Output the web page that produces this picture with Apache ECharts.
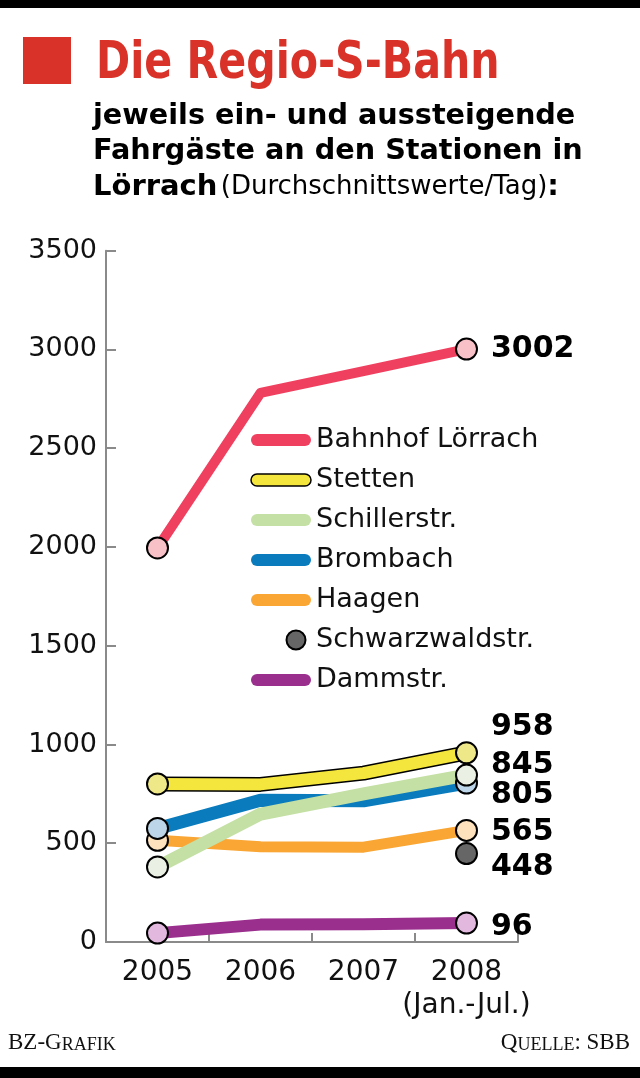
<!DOCTYPE html>
<html>
<head>
<meta charset="utf-8">
<script src="https://cdn.jsdelivr.net/npm/echarts@6/dist/echarts.min.js"></script>
<style>html,body{margin:0;padding:0;background:#fff;}#c{width:640px;height:1078px;}</style>
</head>
<body>
<div id="c"></div>
<script>
// ---- data ----
var years = ['2005', '2006', '2007', '2008\n(Jan.-Jul.)'];
var yTicks = [0, 500, 1000, 1500, 2000, 2500, 3000, 3500];
var bahnhof = [1995, 2780, 2890, 3002];
var stetten = [800, 798, 855, 958];
var schiller = [380, 648, 750, 845];
var brombach = [575, 718, 715, 805];
var haagen = [515, 482, 480, 565];
var schwarzwald = [null, null, null, 448];
var dammstr = [45, 88, 90, 96];
var seriesNames = ['Bahnhof Lörrach', 'Stetten', 'Schillerstr.', 'Brombach', 'Haagen', 'Schwarzwaldstr.', 'Dammstr.'];

// ---- styling ----
var FONT = '"DejaVu Sans", "Liberation Sans", sans-serif';
var LINE_ICON = 'path://M0,0 M60,20 M6,4 L54,4 A6,6 0 0 1 54,16 L6,16 A6,6 0 0 1 6,4 Z';
var DOT_ICON = 'path://M0,0 M60,20 M35.5,10 A9.5,9.5 0 1 0 54.5,10 A9.5,9.5 0 1 0 35.5,10 Z';
var labelOffsets = { 'Bahnhof Lörrach': 0, 'Stetten': -26, 'Schillerstr.': -10, 'Brombach': 12, 'Haagen': 2, 'Schwarzwaldstr.': 14, 'Dammstr.': 4 };

function mkData(name, values, fill, markerIdx) {
  return values.map(function (v, i) {
    if (v === null) return null;
    var item = { value: v };
    if (markerIdx.indexOf(i) >= 0) {
      item.symbol = 'circle';
      item.symbolSize = 21;
      item.itemStyle = { color: fill, borderColor: '#000', borderWidth: 2 };
    } else {
      item.symbol = 'none';
    }
    if (i === values.length - 1) {
      item.label = {
        show: true, position: 'right', distance: 13,
        offset: [0, labelOffsets[name]],
        formatter: String(v),
        fontFamily: FONT, fontWeight: 'bold', fontSize: 30, color: '#000'
      };
    }
    return item;
  });
}

function lineSeries(name, values, color, width, fill) {
  return {
    name: name, type: 'line', data: mkData(name, values, fill, [0, 3]),
    lineStyle: { color: color, width: width, cap: 'butt', join: 'round' },
    itemStyle: { color: color },
    showAllSymbol: true, silent: true, z: 2
  };
}

var series = [
  lineSeries('Dammstr.', dammstr, '#9a2f8e', 12, '#e2b8df'),
  {
    name: 'Schwarzwaldstr.', type: 'line', data: mkData('Schwarzwaldstr.', schwarzwald, '#666666', [3]),
    lineStyle: { width: 0 }, itemStyle: { color: '#666666' }, silent: true, z: 2
  },
  lineSeries('Haagen', haagen, '#f9a634', 11, '#fde2bd'),
  lineSeries('Brombach', brombach, '#0a7cbd', 13, '#bcd5e8'),
  lineSeries('Schillerstr.', schiller, '#c4e0a4', 13, '#ebf0e4'),
  {
    name: 'Stetten-outline', type: 'line', data: stetten, symbol: 'none',
    lineStyle: { color: '#000', width: 15, join: 'round' }, silent: true, z: 2
  },
  lineSeries('Stetten', stetten, '#f5e63e', 12, '#efe888'),
  lineSeries('Bahnhof Lörrach', bahnhof, '#f0405f', 10, '#f8c0c7')
];

var legendColors = {
  'Bahnhof Lörrach': '#f0405f', 'Stetten': '#f5e63e', 'Schillerstr.': '#c4e0a4',
  'Brombach': '#0a7cbd', 'Haagen': '#f9a634', 'Schwarzwaldstr.': '#666666', 'Dammstr.': '#9a2f8e'
};
var legendData = seriesNames.map(function (n) {
  var d = { name: n, icon: LINE_ICON, itemStyle: { color: legendColors[n], borderWidth: 0, borderColor: 'transparent' } };
  if (n === 'Stetten') d.itemStyle = { color: legendColors[n], borderColor: '#000', borderWidth: 1.5 };
  if (n === 'Schwarzwaldstr.') { d.icon = DOT_ICON; d.itemStyle = { color: legendColors[n], borderColor: '#000', borderWidth: 2 }; }
  return d;
});

var chart = echarts.init(document.getElementById('c'), null, { renderer: 'canvas' });
chart.setOption({
  animation: false,
  backgroundColor: '#fff',
  grid: { left: 106, right: 122, top: 250.7, bottom: 136, containLabel: false },
  xAxis: {
    type: 'category', data: years, boundaryGap: true,
    axisLine: { lineStyle: { color: '#8a8a8a', width: 2 } },
    axisTick: { show: true, inside: true, length: 9, interval: 0, lineStyle: { color: '#8a8a8a', width: 2 } },
    axisLabel: { fontFamily: FONT, fontSize: 28, color: '#111', margin: 14, lineHeight: 33, interval: 0 },
    splitLine: { show: false }
  },
  yAxis: {
    type: 'value', min: yTicks[0], max: yTicks[yTicks.length - 1], interval: 500,
    axisLine: { show: true, lineStyle: { color: '#8a8a8a', width: 2 } },
    axisTick: { show: true, inside: true, length: 10, lineStyle: { color: '#8a8a8a', width: 2 } },
    axisLabel: { fontFamily: FONT, fontSize: 27, color: '#111', margin: 9,
      formatter: function (v) { return String(v); } },
    splitLine: { show: false }
  },
  legend: {
    orient: 'vertical', left: 250, top: 425, padding: 0,
    itemWidth: 60, itemHeight: 20, itemGap: 10, selectedMode: false,
    textStyle: { fontFamily: FONT, fontSize: 27, color: '#111', lineHeight: 30 },
    data: legendData
  },
  graphic: [
    { type: 'rect', shape: { x: 0, y: 0, width: 640, height: 8 }, style: { fill: '#000' } },
    { type: 'rect', shape: { x: 0, y: 1067, width: 640, height: 11 }, style: { fill: '#000' } },
    { type: 'rect', shape: { x: 23, y: 37, width: 48, height: 47 }, style: { fill: '#d93228' } },
    { type: 'text', x: 96, y: 64, scaleX: 0.88, scaleY: 1,
      style: { x: 0, y: 0, text: 'Die Regio-S-Bahn', fill: '#d93228',
        font: 'bold 52px "DejaVu Sans Condensed", "DejaVu Sans", sans-serif', verticalAlign: 'middle' } },
    { type: 'text', style: { x: 93, y: 117, text: 'jeweils ein- und aussteigende', fill: '#000',
        font: 'bold 28.7px ' + FONT, verticalAlign: 'middle' } },
    { type: 'text', style: { x: 93, y: 152, text: 'Fahrgäste an den Stationen in', fill: '#000',
        font: 'bold 28.7px ' + FONT, verticalAlign: 'middle' } },
    { type: 'text', style: { x: 93, y: 187, text: '{b|Lörrach} {r|(Durchschnittswerte/Tag)}{b|:}', fill: '#000',
        verticalAlign: 'middle',
        rich: {
          b: { fontFamily: FONT, fontWeight: 'bold', fontSize: 29, fill: '#000' },
          r: { fontFamily: FONT, fontWeight: 'normal', fontSize: 26, fill: '#000' }
        } } },
    { type: 'text', style: { x: 8, y: 1043, text: '{a|BZ-G}{s|RAFIK}', verticalAlign: 'middle',
        rich: {
          a: { fontFamily: '"Liberation Serif", serif', fontSize: 23, fill: '#111', verticalAlign: 'bottom' },
          s: { fontFamily: '"Liberation Serif", serif', fontSize: 18, fill: '#111', verticalAlign: 'bottom' }
        } } },
    { type: 'text', style: { x: 630, y: 1043, text: '{a|Q}{s|UELLE}{a|: SBB}', align: 'right', verticalAlign: 'middle',
        rich: {
          a: { fontFamily: '"Liberation Serif", serif', fontSize: 23, fill: '#111', verticalAlign: 'bottom' },
          s: { fontFamily: '"Liberation Serif", serif', fontSize: 18, fill: '#111', verticalAlign: 'bottom' }
        } } }
  ],
  series: series
});
</script>
</body>
</html>
